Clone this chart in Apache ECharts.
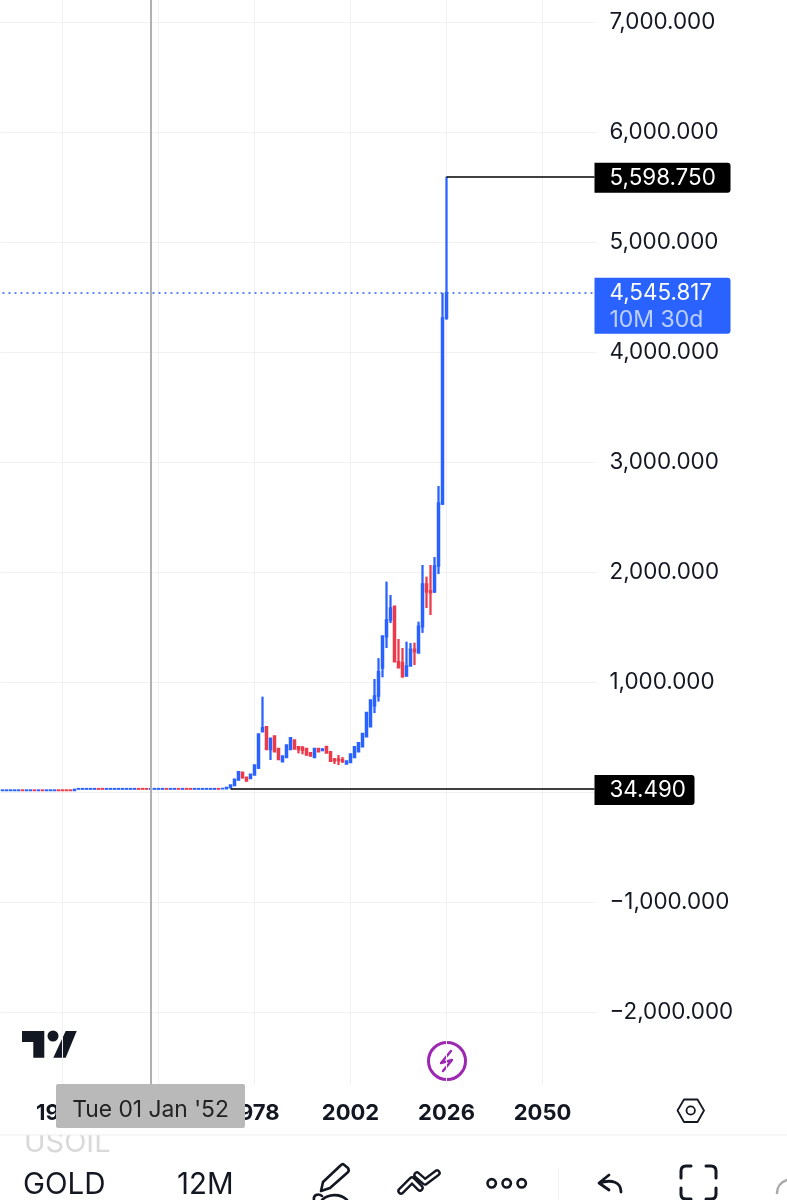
<!DOCTYPE html>
<html><head><meta charset="utf-8">
<style>html,body{margin:0;padding:0;background:#fff}#c{width:787px;height:1200px}</style>
<script src="https://cdn.jsdelivr.net/npm/echarts@6/dist/echarts.min.js"></script>
</head><body><div id="c"></div>
<script>
const firstYear = 1915, lastYear = 2063;
const years = [];
for (let y = firstYear; y <= lastYear; y++) years.push(String(y));
const xTicks = ['1930','1954','1978','2002','2026','2050'];
const yTicks = [-2000,-1000,0,1000,2000,3000,4000,5000,6000,7000];
const tagHigh = 5598.75, tagLow = 34.49, tagLast = 4545.817, countdown = '10M 30d';
const crosshairYear = '1952', crosshairText = "Tue 01 Jan '52";

// 1915 .. 2026, one entry per year
const opens = [
20,20,20,20,20,24,20,20,24,20,24,20,20,20,24,24,24,24,20,
33,33,33,33,33,37,37,33,33,33,33,33,33,33,33,37,37,37,33,33,33,33,37,33,33,37,33,37,37,33,33,33,33,33,33,37,
35,36,44,65,115,185,140,130,161,224,554,600,392,515,403,281,321,392,479,418,412,403,363,321,403,383,421,372,306,305,300,262,274,321,372,418,509,600,790,880,1134,1418,1570,1695,1190,1181,1060,1151,1303,1270,1509,1897,1836,1827,2060,2625,4315];
const closes = [
24,24,24,24,24,20,24,24,20,24,20,24,24,24,20,20,20,20,30,
37,37,37,37,37,33,33,37,37,37,37,37,37,37,37,33,33,33,37,37,37,37,33,37,37,33,37,33,33,37,37,37,37,37,37,33,
38,48,70,122,191,136,106,167,251,533,590,392,495,373,301,333,433,499,397,392,385,342,333,403,373,397,360,287,290,292,285,288,351,418,454,539,730,842,880,1100,1425,1570,1679,1190,1135,1054,1151,1303,1281,1513,1897,1827,1818,2060,2633,4315,4545.817];
const lows = [
20,20,20,20,20,20,20,20,20,20,20,20,20,20,20,20,20,20,20,
33,33,33,33,33,33,33,33,33,33,33,33,33,33,33,33,33,33,33,33,33,33,33,33,33,33,33,33,33,33,33,33,33,33,33,33,
35,36,44,60,112,130,103,130,161,215,554,392,297,373,301,281,321,392,397,358,350,342,333,321,373,378,360,287,262,252,270,260,274,321,372,418,509,600,724,830,1050,1315,1542,1190,1133,1047,1055,1151,1160,1270,1454,1679,1615,1815,1988,2615,4300];
const highs = [
24,24,24,24,24,24,24,24,24,24,24,24,24,24,24,24,24,24,30,
37,37,37,37,37,37,37,37,37,37,37,37,37,37,37,37,37,37,37,37,37,37,37,37,37,37,37,37,37,37,37,37,37,37,37,37,
40,48,70,125,195,185,140,167,251,533,872,600,495,515,403,333,433,499,479,424,424,403,363,403,403,403,421,372,315,342,325,288,351,418,454,539,730,842,1033,1222,1425,1918,1797,1695,1397,1315,1372,1360,1363,1554,2070,1963,2070,2142,2788,4543,5598.75];

const ink = '#131722', up = '#2962ff', down = '#ec3a4b';
const fontFamily = 'Inter, Roboto, "Liberation Sans", sans-serif';
const candles = opens.map((o, i) => [o, closes[i], lows[i], highs[i]]);
const money = v => (v < 0 ? '\u2212' : '') + Math.abs(v).toLocaleString('en-US', {minimumFractionDigits: 3, maximumFractionDigits: 3});

let shapeCount = 0;
function icon(d) {
  const name = 'iconShape' + (shapeCount++);
  echarts.graphic.registerShape(name, echarts.graphic.extendPath(d));
  return name;
}
function stroke(d, w, c) {
  return {type: icon(d), style: {fill: 'none', stroke: c || ink, lineWidth: w, lineCap: 'round', lineJoin: 'round'}, silent: true};
}
function fill(d, c) {
  return {type: icon(d), style: {fill: c || ink}, silent: true};
}
function ring(x, y, r, w, c) {
  return {type: 'circle', shape: {cx: x, cy: y, r}, style: {fill: 'none', stroke: c || ink, lineWidth: w}, silent: true};
}
function text(t, x, y, size, color, extra) {
  return {type: 'text', x, y, silent: true, style: Object.assign({text: t, fontSize: size, fontFamily, fill: color, verticalAlign: 'middle', align: 'left'}, extra || {})};
}

const chart = echarts.init(document.getElementById('c'), null, {renderer: 'canvas'});
chart.setOption({
  animation: false,
  backgroundColor: '#fff',
  grid: {left: 0.5, top: 0, width: 596, height: 1085, containLabel: false},
  xAxis: {
    type: 'category', data: years, boundaryGap: true,
    axisLine: {show: false}, axisTick: {show: false},
    axisLabel: {
      interval: (i, v) => xTicks.includes(v), hideOverlap: false,
      color: ink, fontFamily, fontSize: 22, fontWeight: 'bold', margin: 17
    },
    splitLine: {show: true, alignWithLabel: true, interval: (i, v) => xTicks.includes(v), lineStyle: {color: '#f1f1f3', width: 1}}
  },
  yAxis: {
    type: 'value', position: 'right', min: -2657, max: 7206, scale: false,
    axisLine: {show: false},
    axisTick: {show: false, customValues: yTicks},
    axisLabel: {customValues: yTicks, color: ink, fontFamily, fontSize: 22.4, align: 'left', margin: 13, padding: [0, 0, 2, 0], formatter: money, showMinLabel: true, showMaxLabel: true},
    splitLine: {show: true, lineStyle: {color: '#f1f1f3', width: 1}}
  },
  series: [{
    // thicker wicks underneath the bodies
    type: 'candlestick', data: candles, barWidth: 1, z: 2,
    itemStyle: {color: up, color0: down, borderColor: up, borderColor0: down, borderWidth: 2}
  }, {
    type: 'candlestick', data: candles, barWidth: 2, z: 3,
    itemStyle: {color: up, color0: down, borderColor: up, borderColor0: down, borderWidth: 1.5},
    markLine: {
      silent: true, symbol: 'none', animation: false, precision: 3,
      data: [
        [{xAxis: crosshairYear, yAxis: -2657, lineStyle: {color: '#b0b0b0', width: 2, type: 'solid'}, label: {show: false}},
         {xAxis: crosshairYear, yAxis: 7206}],
        [{xAxis: String(firstYear), yAxis: tagLast, lineStyle: {color: up, width: 1.5, type: [2, 4]},
          label: {show: true, position: 'end', distance: 0, formatter: () => '{a|' + money(tagLast) + '}\n{b|' + countdown + '}',
            backgroundColor: up, borderRadius: [0, 3, 3, 0], padding: [2, 0, 2, 15], width: 121, height: 52, offset: [0, 13], align: 'left',
            rich: {a: {color: '#fff', fontFamily, fontSize: 22.4, height: 27, lineHeight: 27}, b: {color: '#bcd0ff', fontFamily, fontSize: 23, height: 26, lineHeight: 26}}}},
         {xAxis: String(lastYear), yAxis: tagLast}],
        [{xAxis: '2026', yAxis: tagHigh, lineStyle: {color: '#000', width: 1.5, type: 'solid'},
          label: {show: true, position: 'end', distance: 0, formatter: () => money(tagHigh), color: '#fff', fontFamily, fontSize: 22.4,
            backgroundColor: '#000', borderRadius: [0, 3, 3, 0], padding: [4, 0, 4, 15], width: 121, align: 'left', offset: [0, 1]}},
         {xAxis: String(lastYear), yAxis: tagHigh}],
        [{xAxis: '1972', yAxis: tagLow, lineStyle: {color: '#000', width: 1.5, type: 'solid'},
          label: {show: true, position: 'end', distance: 0, formatter: () => money(tagLow), color: '#fff', fontFamily, fontSize: 22.4,
            backgroundColor: '#000', borderRadius: [0, 3, 3, 0], padding: [4, 0, 4, 15], width: 85, align: 'left', offset: [0, 1]}},
         {xAxis: String(lastYear), yAxis: tagLow}]
      ]
    }
  }],
  graphic: {elements: [
    fill('M22 1031 H44.3 V1057.7 H33.3 V1042 H22 Z'),
    fill('M65.7 1031 H76.7 L65.7 1057.7 H53.3 Z'),
    {type: 'circle', shape: {cx: 53, cy: 1036, r: 5.5}, style: {fill: ink}, silent: true},
    ring(447, 1061, 18.5, 3, '#9c27b0'),
    stroke('M451 1051 L441 1063 L452 1060 L443 1071', 2.4, '#9c27b0'),
    {type: 'rect', shape: {x: 56, y: 1084, width: 189, height: 44, r: 2}, style: {fill: '#b9b9b9'}, silent: true, z: 50},
    Object.assign(text(crosshairText, 150.5, 1110, 22.8, '#222', {align: 'center'}), {z: 51}),
    stroke('M677.5 1110.5 L684 1099.5 H697.5 L704 1110.5 L697.5 1122 H684 Z', 1.8),
    ring(690.7, 1110.5, 4.2, 1.8),
    Object.assign(text('USOIL', 24, 1143, 29, '#d9d9d9'), {z: 1}),
    {type: 'rect', shape: {x: 0, y: 1129, width: 787, height: 6}, style: {fill: '#fff'}, silent: true, z: 2},
    {type: 'rect', shape: {x: 0, y: 1134.5, width: 787, height: 1}, style: {fill: '#efefef'}, silent: true, z: 3},
    text('GOLD', 23, 1185, 29.5, ink),
    text('12M', 177, 1185, 29.5, ink),
    stroke('M343 1164 L348 1168 Q350 1171 347 1173 L330 1188 L321 1191 L323 1182 L340 1166 Q342 1164 343 1164 Z', 2.6),
    stroke('M314 1200 C313 1195 318 1193 322 1196 M322 1200 C328 1194 340 1193 347 1200', 2.6),
    stroke('M401 1191 L412 1180 L420 1188 M417 1175 L425 1182 L437 1173', 7.5),
    stroke('M401 1191 L412 1180 L420 1188 M417 1175 L425 1182 L437 1173', 2.8, '#fff'),
    ring(491.7, 1183.3, 4.2, 2.6), ring(506.7, 1183.3, 4.2, 2.6), ring(521.7, 1183.3, 4.2, 2.6),
    stroke('M558.5 1168 V1200', 1, '#efefef'),
    stroke('M609 1175 L599 1183 L609 1190 M599 1183 C612 1179 621 1182 621 1192', 2.8),
    stroke('M681 1178 V1171 Q681 1166 686 1166 H691 M706 1166 H711 Q716 1166 716 1171 V1178 M681 1188 V1194 Q681 1199 686 1199 H691 M706 1199 H711 Q716 1199 716 1194 V1188', 3),
    stroke('M777 1193 C777 1187 781 1182 787 1180', 2.6, '#aaa')
  ]}
});
</script></body></html>
